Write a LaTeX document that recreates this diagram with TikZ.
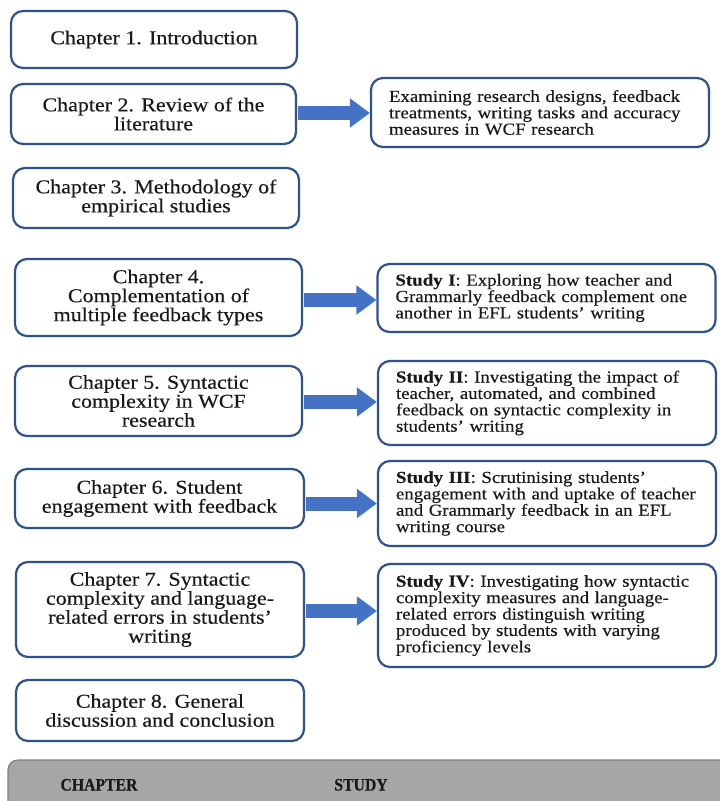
\documentclass[tikz,border=0pt]{standalone}
\usepackage{fontspec}
\setmainfont{Liberation Serif}[FakeStretch=1.12,FakeBold=0.35]
\newfontfamily\barfont{Liberation Serif}[FakeStretch=0.9,FakeBold=0.3]
\usetikzlibrary{arrows.meta,calc}
\definecolor{boxblue}{RGB}{47,82,143}
\definecolor{arrblue}{RGB}{68,114,196}
\definecolor{barfill}{RGB}{166,166,166}
\definecolor{barline}{RGB}{128,128,128}
\begin{document}
\begin{tikzpicture}[x=1pt,y=-1pt,
  chbox/.style={draw=boxblue, line width=2.2pt, rounded corners=12pt, fill=white,
    align=center, inner sep=0pt, text=black!90, font=\fontsize{19.6}{19}\selectfont},
  stbox/.style={draw=boxblue, line width=2.2pt, rounded corners=12pt, fill=white,
    align=left, inner xsep=18pt, inner ysep=0pt, text width=302pt, text=black!90,
    font=\fontsize{16.8}{16.4}\selectfont},
  blockarrow/.style={draw=arrblue, line width=14pt, -{Triangle[length=20pt,width=28pt]}},
  bartext/.style={font=\barfont\fontsize{17.5}{18}\selectfont\bfseries, inner sep=0pt, anchor=base, text=black!90}
]
\useasboundingbox (0,0) rectangle (720,801);
\fill[white] (0,0) rectangle (720,801);

% chapter boxes
\node[chbox, minimum width=286pt, minimum height=57pt] (ch1) at (154,39.5) {Chapter 1. Introduction};
\node[chbox, minimum width=285pt, minimum height=60pt] (ch2) at (153.5,114) {Chapter 2. Review of the\\literature};
\node[chbox, minimum width=286pt, minimum height=60pt] (ch3) at (156,198) {Chapter 3. Methodology of\\empirical studies};
\node[chbox, minimum width=287pt, minimum height=77pt] (ch4) at (158.5,297.5) {Chapter 4.\\Complementation of\\multiple feedback types};
\node[chbox, minimum width=287pt, minimum height=70pt] (ch5) at (158.5,401) {Chapter 5. Syntactic\\complexity in WCF\\research};
\node[chbox, minimum width=289pt, minimum height=59pt] (ch6) at (159.5,498.5) {Chapter 6. Student\\engagement with feedback};
\node[chbox, minimum width=288pt, minimum height=95pt] (ch7) at (160,609.5) {Chapter 7. Syntactic\\complexity and language-\\related errors in students’\\writing};
\node[chbox, minimum width=288pt, minimum height=61pt] (ch8) at (160,710.5) {Chapter 8. General\\discussion and conclusion};

% study boxes
\node[stbox, minimum width=338pt, minimum height=69pt] (rA) at (540,112.5) {Examining research designs, feedback\\treatments, writing tasks and accuracy\\measures in WCF research};
\node[stbox, minimum width=338pt, minimum height=68pt] (s1) at (546.5,298) {\textbf{Study I}: Exploring how teacher and\\Grammarly feedback complement one\\another in EFL students’ writing};
\node[stbox, minimum width=338pt, minimum height=84pt] (s2) at (547,403) {\textbf{Study II}: Investigating the impact of\\teacher, automated, and combined\\feedback on syntactic complexity in\\students’ writing};
\node[stbox, minimum width=338pt, minimum height=85pt] (s3) at (547,503.5) {\textbf{Study III}: Scrutinising students’\\engagement with and uptake of teacher\\and Grammarly feedback in an EFL\\writing course};
\node[stbox, minimum width=338pt, minimum height=103pt] (s4) at (547,615.5) {\textbf{Study IV}: Investigating how syntactic\\complexity measures and language-\\related errors distinguish writing\\produced by students with varying\\proficiency levels};

% arrows
\draw[blockarrow] ($(ch2.east)+(1,-1)$) -- ($(ch2.east -| rA.west)+(0,-1)$);
\draw[blockarrow] ($(ch4.east)+(1,2.5)$) -- ($(ch4.east -| s1.west)+(0,2.5)$);
\draw[blockarrow] ($(ch5.east)+(1,1)$) -- ($(ch5.east -| s2.west)+(0,1)$);
\draw[blockarrow] ($(ch6.east |- s3.west)+(1,0)$) -- (s3.west);
\draw[blockarrow] ($(ch7.east)+(1,1.5)$) -- ($(ch7.east -| s4.west)+(0,1.5)$);

% bottom bar
\draw[fill=barfill, draw=barline, line width=1.2pt, rounded corners=10pt]
  (8,812) -- (8,760) -- (730,760) -- (730,812);
\node[bartext] (chapterlabel) at (99,790.5) {CHAPTER};
\node[bartext] (studylabel) at (361,790.5) {STUDY};
\end{tikzpicture}
\end{document}
